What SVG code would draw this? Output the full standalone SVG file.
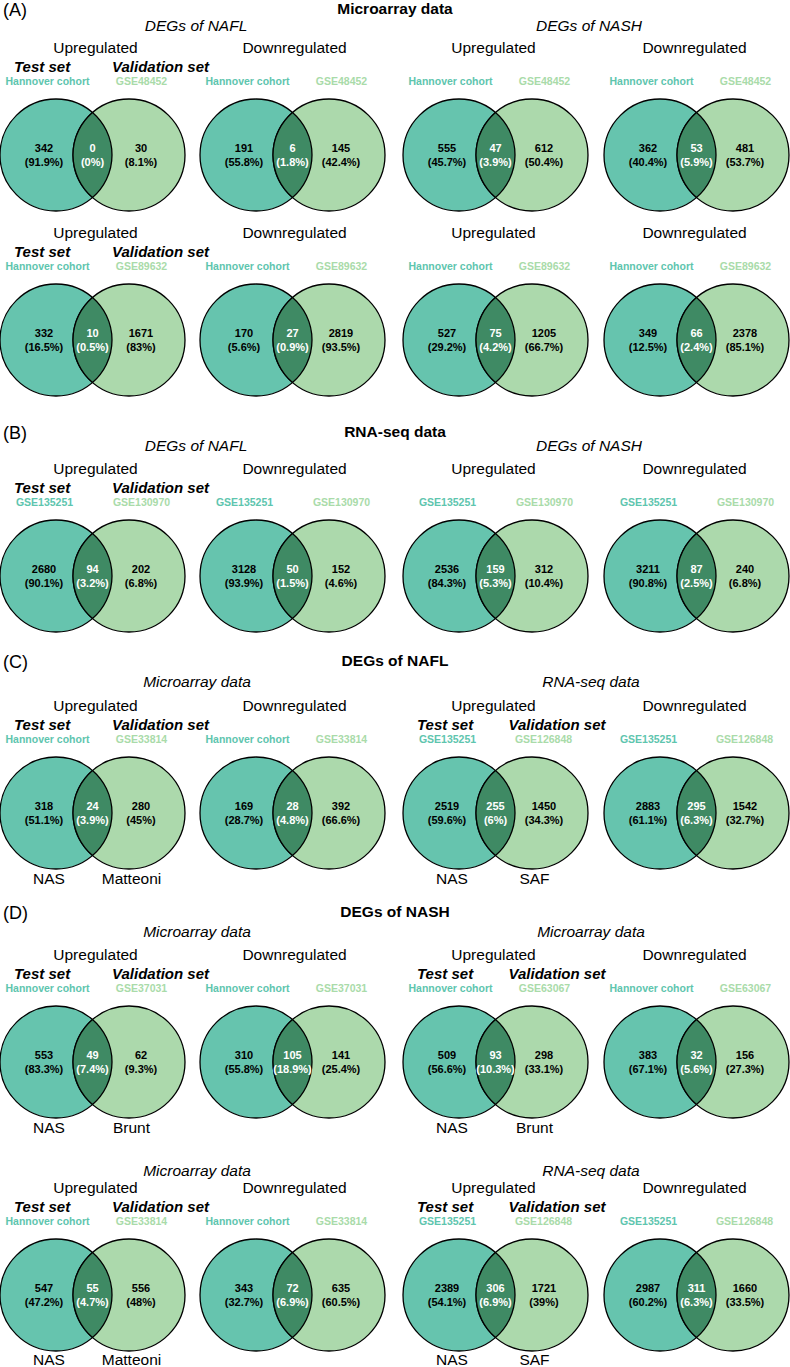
<svg xmlns="http://www.w3.org/2000/svg" xmlns:xlink="http://www.w3.org/1999/xlink" width="790" height="1367" viewBox="0 0 790 1367">
<style>
text{font-family:"Liberation Sans",Arial,sans-serif;}
.L{fill:#66c4ae;stroke:#000;stroke-width:1.3}
.R{fill:#acd9ac;stroke:#000;stroke-width:1.3}
.I{fill:#3f8a64;stroke:#000;stroke-width:1.3}
.pl{font-size:18px;fill:#000}
.tt{font-size:15.5px;font-weight:bold;fill:#000;text-anchor:middle}
.st{font-size:15.5px;font-style:italic;fill:#000;text-anchor:middle}
.ud{font-size:15.5px;fill:#000;text-anchor:middle}
.ts{font-size:15px;font-weight:bold;font-style:italic;fill:#000}
.dl{font-size:10.5px;font-weight:bold;fill:#5ec5ae;text-anchor:middle}
.dr{font-size:10.5px;font-weight:bold;fill:#a9dba9;text-anchor:middle}
.n{font-size:11px;font-weight:bold;fill:#000;text-anchor:middle}
.ni{font-size:11px;font-weight:bold;fill:#fff;text-anchor:middle}
.bl{font-size:15.5px;fill:#000;text-anchor:middle}
</style>
<defs>
<g id="venn">
<circle class="L" cx="-36.5" cy="0" r="56"/>
<circle class="R" cx="36.5" cy="0" r="56"/>
<path class="I" d="M0,-42.47A56,56 0 0 1 0,42.47A56,56 0 0 1 0,-42.47Z"/>
</g>
</defs>
<g id="connectors"></g>
<g id="headers">
<text class="pl" x="3" y="16">(A)</text>
<text class="tt" x="395" y="14">Microarray data</text>
<text class="st" x="196" y="31">DEGs of NAFL</text>
<text class="st" x="589" y="31">DEGs of NASH</text>
<text class="pl" x="3" y="439">(B)</text>
<text class="tt" x="395" y="437">RNA-seq data</text>
<text class="st" x="196" y="451">DEGs of NAFL</text>
<text class="st" x="589" y="451">DEGs of NASH</text>
<text class="pl" x="3" y="668">(C)</text>
<text class="tt" x="395" y="666">DEGs of NAFL</text>
<text class="st" x="197" y="687">Microarray data</text>
<text class="st" x="591" y="687">RNA-seq data</text>
<text class="pl" x="3" y="919">(D)</text>
<text class="tt" x="395" y="917">DEGs of NASH</text>
<text class="st" x="197" y="937">Microarray data</text>
<text class="st" x="591" y="937">Microarray data</text>
<text class="st" x="197" y="1176">Microarray data</text>
<text class="st" x="591" y="1176">RNA-seq data</text>
</g>

<!-- A row 1 -->
<g id="A1c1" transform="translate(92.5,155)">
<text class="ud" x="3" y="-102">Upregulated</text>
<text class="ts" x="-78.5" y="-83.5">Test set</text>
<text class="ts" x="19.5" y="-83.5">Validation set</text>
<text class="dl" x="-45" y="-70">Hannover cohort</text>
<text class="dr" x="49" y="-70">GSE48452</text>
<use href="#venn"/>
<text class="n" x="-48.5" y="-3.5">342</text><text class="n" x="-48.5" y="11">(91.9%)</text>
<text class="ni" x="0" y="-3.5">0</text><text class="ni" x="0" y="11">(0%)</text>
<text class="n" x="48.5" y="-3.5">30</text><text class="n" x="48.5" y="11">(8.1%)</text>
</g>
<g id="A1c2" transform="translate(292.5,155)">
<text class="ud" x="2" y="-102">Downregulated</text>
<text class="dl" x="-45" y="-70">Hannover cohort</text>
<text class="dr" x="49" y="-70">GSE48452</text>
<use href="#venn"/>
<text class="n" x="-48.5" y="-3.5">191</text><text class="n" x="-48.5" y="11">(55.8%)</text>
<text class="ni" x="0" y="-3.5">6</text><text class="ni" x="0" y="11">(1.8%)</text>
<text class="n" x="48.5" y="-3.5">145</text><text class="n" x="48.5" y="11">(42.4%)</text>
</g>
<g id="A1c3" transform="translate(495.5,155)">
<text class="ud" x="-2" y="-102">Upregulated</text>
<text class="dl" x="-45" y="-70">Hannover cohort</text>
<text class="dr" x="49" y="-70">GSE48452</text>
<use href="#venn"/>
<text class="n" x="-48.5" y="-3.5">555</text><text class="n" x="-48.5" y="11">(45.7%)</text>
<text class="ni" x="0" y="-3.5">47</text><text class="ni" x="0" y="11">(3.9%)</text>
<text class="n" x="48.5" y="-3.5">612</text><text class="n" x="48.5" y="11">(50.4%)</text>
</g>
<g id="A1c4" transform="translate(696.5,155)">
<text class="ud" x="-2" y="-102">Downregulated</text>
<text class="dl" x="-45" y="-70">Hannover cohort</text>
<text class="dr" x="49" y="-70">GSE48452</text>
<use href="#venn"/>
<text class="n" x="-48.5" y="-3.5">362</text><text class="n" x="-48.5" y="11">(40.4%)</text>
<text class="ni" x="0" y="-3.5">53</text><text class="ni" x="0" y="11">(5.9%)</text>
<text class="n" x="48.5" y="-3.5">481</text><text class="n" x="48.5" y="11">(53.7%)</text>
</g>

<!-- A row 2 -->
<g id="A2c1" transform="translate(92.5,340)">
<text class="ud" x="3" y="-102">Upregulated</text>
<text class="ts" x="-78.5" y="-83.5">Test set</text>
<text class="ts" x="19.5" y="-83.5">Validation set</text>
<text class="dl" x="-45" y="-70">Hannover cohort</text>
<text class="dr" x="49" y="-70">GSE89632</text>
<use href="#venn"/>
<text class="n" x="-48.5" y="-3.5">332</text><text class="n" x="-48.5" y="11">(16.5%)</text>
<text class="ni" x="0" y="-3.5">10</text><text class="ni" x="0" y="11">(0.5%)</text>
<text class="n" x="48.5" y="-3.5">1671</text><text class="n" x="48.5" y="11">(83%)</text>
</g>
<g id="A2c2" transform="translate(292.5,340)">
<text class="ud" x="2" y="-102">Downregulated</text>
<text class="dl" x="-45" y="-70">Hannover cohort</text>
<text class="dr" x="49" y="-70">GSE89632</text>
<use href="#venn"/>
<text class="n" x="-48.5" y="-3.5">170</text><text class="n" x="-48.5" y="11">(5.6%)</text>
<text class="ni" x="0" y="-3.5">27</text><text class="ni" x="0" y="11">(0.9%)</text>
<text class="n" x="48.5" y="-3.5">2819</text><text class="n" x="48.5" y="11">(93.5%)</text>
</g>
<g id="A2c3" transform="translate(495.5,340)">
<text class="ud" x="-2" y="-102">Upregulated</text>
<text class="dl" x="-45" y="-70">Hannover cohort</text>
<text class="dr" x="49" y="-70">GSE89632</text>
<use href="#venn"/>
<text class="n" x="-48.5" y="-3.5">527</text><text class="n" x="-48.5" y="11">(29.2%)</text>
<text class="ni" x="0" y="-3.5">75</text><text class="ni" x="0" y="11">(4.2%)</text>
<text class="n" x="48.5" y="-3.5">1205</text><text class="n" x="48.5" y="11">(66.7%)</text>
</g>
<g id="A2c4" transform="translate(696.5,340)">
<text class="ud" x="-2" y="-102">Downregulated</text>
<text class="dl" x="-45" y="-70">Hannover cohort</text>
<text class="dr" x="49" y="-70">GSE89632</text>
<use href="#venn"/>
<text class="n" x="-48.5" y="-3.5">349</text><text class="n" x="-48.5" y="11">(12.5%)</text>
<text class="ni" x="0" y="-3.5">66</text><text class="ni" x="0" y="11">(2.4%)</text>
<text class="n" x="48.5" y="-3.5">2378</text><text class="n" x="48.5" y="11">(85.1%)</text>
</g>

<!-- B -->
<g id="Bc1" transform="translate(92.5,576)">
<text class="ud" x="3" y="-102">Upregulated</text>
<text class="ts" x="-78.5" y="-83.5">Test set</text>
<text class="ts" x="19.5" y="-83.5">Validation set</text>
<text class="dl" x="-48" y="-70">GSE135251</text>
<text class="dr" x="49" y="-70">GSE130970</text>
<use href="#venn"/>
<text class="n" x="-48.5" y="-3.5">2680</text><text class="n" x="-48.5" y="11">(90.1%)</text>
<text class="ni" x="0" y="-3.5">94</text><text class="ni" x="0" y="11">(3.2%)</text>
<text class="n" x="48.5" y="-3.5">202</text><text class="n" x="48.5" y="11">(6.8%)</text>
</g>
<g id="Bc2" transform="translate(292.5,576)">
<text class="ud" x="2" y="-102">Downregulated</text>
<text class="dl" x="-48" y="-70">GSE135251</text>
<text class="dr" x="49" y="-70">GSE130970</text>
<use href="#venn"/>
<text class="n" x="-48.5" y="-3.5">3128</text><text class="n" x="-48.5" y="11">(93.9%)</text>
<text class="ni" x="0" y="-3.5">50</text><text class="ni" x="0" y="11">(1.5%)</text>
<text class="n" x="48.5" y="-3.5">152</text><text class="n" x="48.5" y="11">(4.6%)</text>
</g>
<g id="Bc3" transform="translate(495.5,576)">
<text class="ud" x="-2" y="-102">Upregulated</text>
<text class="dl" x="-48" y="-70">GSE135251</text>
<text class="dr" x="49" y="-70">GSE130970</text>
<use href="#venn"/>
<text class="n" x="-48.5" y="-3.5">2536</text><text class="n" x="-48.5" y="11">(84.3%)</text>
<text class="ni" x="0" y="-3.5">159</text><text class="ni" x="0" y="11">(5.3%)</text>
<text class="n" x="48.5" y="-3.5">312</text><text class="n" x="48.5" y="11">(10.4%)</text>
</g>
<g id="Bc4" transform="translate(696.5,576)">
<text class="ud" x="-2" y="-102">Downregulated</text>
<text class="dl" x="-48" y="-70">GSE135251</text>
<text class="dr" x="49" y="-70">GSE130970</text>
<use href="#venn"/>
<text class="n" x="-48.5" y="-3.5">3211</text><text class="n" x="-48.5" y="11">(90.8%)</text>
<text class="ni" x="0" y="-3.5">87</text><text class="ni" x="0" y="11">(2.5%)</text>
<text class="n" x="48.5" y="-3.5">240</text><text class="n" x="48.5" y="11">(6.8%)</text>
</g>

<!-- C -->
<g id="Cc1" transform="translate(92.5,813)">
<text class="ud" x="3" y="-102">Upregulated</text>
<text class="ts" x="-78.5" y="-83.5">Test set</text>
<text class="ts" x="19.5" y="-83.5">Validation set</text>
<text class="dl" x="-45" y="-70">Hannover cohort</text>
<text class="dr" x="49" y="-70">GSE33814</text>
<use href="#venn"/>
<text class="n" x="-48.5" y="-3.5">318</text><text class="n" x="-48.5" y="11">(51.1%)</text>
<text class="ni" x="0" y="-3.5">24</text><text class="ni" x="0" y="11">(3.9%)</text>
<text class="n" x="48.5" y="-3.5">280</text><text class="n" x="48.5" y="11">(45%)</text>
<text class="bl" x="-43.5" y="71">NAS</text>
<text class="bl" x="39" y="71">Matteoni</text>
</g>
<g id="Cc2" transform="translate(292.5,813)">
<text class="ud" x="2" y="-102">Downregulated</text>
<text class="dl" x="-45" y="-70">Hannover cohort</text>
<text class="dr" x="49" y="-70">GSE33814</text>
<use href="#venn"/>
<text class="n" x="-48.5" y="-3.5">169</text><text class="n" x="-48.5" y="11">(28.7%)</text>
<text class="ni" x="0" y="-3.5">28</text><text class="ni" x="0" y="11">(4.8%)</text>
<text class="n" x="48.5" y="-3.5">392</text><text class="n" x="48.5" y="11">(66.6%)</text>
</g>
<g id="Cc3" transform="translate(495.5,813)">
<text class="ud" x="-2" y="-102">Upregulated</text>
<text class="ts" x="-78.5" y="-83.5">Test set</text>
<text class="ts" x="13" y="-83.5">Validation set</text>
<text class="dl" x="-48" y="-70">GSE135251</text>
<text class="dr" x="48" y="-70">GSE126848</text>
<use href="#venn"/>
<text class="n" x="-48.5" y="-3.5">2519</text><text class="n" x="-48.5" y="11">(59.6%)</text>
<text class="ni" x="0" y="-3.5">255</text><text class="ni" x="0" y="11">(6%)</text>
<text class="n" x="48.5" y="-3.5">1450</text><text class="n" x="48.5" y="11">(34.3%)</text>
<text class="bl" x="-43.5" y="71">NAS</text>
<text class="bl" x="39" y="71">SAF</text>
</g>
<g id="Cc4" transform="translate(696.5,813)">
<text class="ud" x="-2" y="-102">Downregulated</text>
<text class="dl" x="-48" y="-70">GSE135251</text>
<text class="dr" x="48" y="-70">GSE126848</text>
<use href="#venn"/>
<text class="n" x="-48.5" y="-3.5">2883</text><text class="n" x="-48.5" y="11">(61.1%)</text>
<text class="ni" x="0" y="-3.5">295</text><text class="ni" x="0" y="11">(6.3%)</text>
<text class="n" x="48.5" y="-3.5">1542</text><text class="n" x="48.5" y="11">(32.7%)</text>
</g>

<!-- D row 1 -->
<g id="D1c1" transform="translate(92.5,1062)">
<text class="ud" x="3" y="-102">Upregulated</text>
<text class="ts" x="-78.5" y="-83.5">Test set</text>
<text class="ts" x="19.5" y="-83.5">Validation set</text>
<text class="dl" x="-45" y="-70">Hannover cohort</text>
<text class="dr" x="49" y="-70">GSE37031</text>
<use href="#venn"/>
<text class="n" x="-48.5" y="-3.5">553</text><text class="n" x="-48.5" y="11">(83.3%)</text>
<text class="ni" x="0" y="-3.5">49</text><text class="ni" x="0" y="11">(7.4%)</text>
<text class="n" x="48.5" y="-3.5">62</text><text class="n" x="48.5" y="11">(9.3%)</text>
<text class="bl" x="-43.5" y="71">NAS</text>
<text class="bl" x="39" y="71">Brunt</text>
</g>
<g id="D1c2" transform="translate(292.5,1062)">
<text class="ud" x="2" y="-102">Downregulated</text>
<text class="dl" x="-45" y="-70">Hannover cohort</text>
<text class="dr" x="49" y="-70">GSE37031</text>
<use href="#venn"/>
<text class="n" x="-48.5" y="-3.5">310</text><text class="n" x="-48.5" y="11">(55.8%)</text>
<text class="ni" x="0" y="-3.5">105</text><text class="ni" x="0" y="11">(18.9%)</text>
<text class="n" x="48.5" y="-3.5">141</text><text class="n" x="48.5" y="11">(25.4%)</text>
</g>
<g id="D1c3" transform="translate(495.5,1062)">
<text class="ud" x="-2" y="-102">Upregulated</text>
<text class="ts" x="-78.5" y="-83.5">Test set</text>
<text class="ts" x="13" y="-83.5">Validation set</text>
<text class="dl" x="-45" y="-70">Hannover cohort</text>
<text class="dr" x="49" y="-70">GSE63067</text>
<use href="#venn"/>
<text class="n" x="-48.5" y="-3.5">509</text><text class="n" x="-48.5" y="11">(56.6%)</text>
<text class="ni" x="0" y="-3.5">93</text><text class="ni" x="0" y="11">(10.3%)</text>
<text class="n" x="48.5" y="-3.5">298</text><text class="n" x="48.5" y="11">(33.1%)</text>
<text class="bl" x="-43.5" y="71">NAS</text>
<text class="bl" x="39" y="71">Brunt</text>
</g>
<g id="D1c4" transform="translate(696.5,1062)">
<text class="ud" x="-2" y="-102">Downregulated</text>
<text class="dl" x="-45" y="-70">Hannover cohort</text>
<text class="dr" x="49" y="-70">GSE63067</text>
<use href="#venn"/>
<text class="n" x="-48.5" y="-3.5">383</text><text class="n" x="-48.5" y="11">(67.1%)</text>
<text class="ni" x="0" y="-3.5">32</text><text class="ni" x="0" y="11">(5.6%)</text>
<text class="n" x="48.5" y="-3.5">156</text><text class="n" x="48.5" y="11">(27.3%)</text>
</g>

<!-- D row 2 -->
<g id="D2c1" transform="translate(92.5,1295)">
<text class="ud" x="3" y="-102">Upregulated</text>
<text class="ts" x="-78.5" y="-83.5">Test set</text>
<text class="ts" x="19.5" y="-83.5">Validation set</text>
<text class="dl" x="-45" y="-70">Hannover cohort</text>
<text class="dr" x="49" y="-70">GSE33814</text>
<use href="#venn"/>
<text class="n" x="-48.5" y="-3.5">547</text><text class="n" x="-48.5" y="11">(47.2%)</text>
<text class="ni" x="0" y="-3.5">55</text><text class="ni" x="0" y="11">(4.7%)</text>
<text class="n" x="48.5" y="-3.5">556</text><text class="n" x="48.5" y="11">(48%)</text>
<text class="bl" x="-43.5" y="70">NAS</text>
<text class="bl" x="39" y="70">Matteoni</text>
</g>
<g id="D2c2" transform="translate(292.5,1295)">
<text class="ud" x="2" y="-102">Downregulated</text>
<text class="dl" x="-45" y="-70">Hannover cohort</text>
<text class="dr" x="49" y="-70">GSE33814</text>
<use href="#venn"/>
<text class="n" x="-48.5" y="-3.5">343</text><text class="n" x="-48.5" y="11">(32.7%)</text>
<text class="ni" x="0" y="-3.5">72</text><text class="ni" x="0" y="11">(6.9%)</text>
<text class="n" x="48.5" y="-3.5">635</text><text class="n" x="48.5" y="11">(60.5%)</text>
</g>
<g id="D2c3" transform="translate(495.5,1295)">
<text class="ud" x="-2" y="-102">Upregulated</text>
<text class="ts" x="-78.5" y="-83.5">Test set</text>
<text class="ts" x="13" y="-83.5">Validation set</text>
<text class="dl" x="-48" y="-70">GSE135251</text>
<text class="dr" x="48" y="-70">GSE126848</text>
<use href="#venn"/>
<text class="n" x="-48.5" y="-3.5">2389</text><text class="n" x="-48.5" y="11">(54.1%)</text>
<text class="ni" x="0" y="-3.5">306</text><text class="ni" x="0" y="11">(6.9%)</text>
<text class="n" x="48.5" y="-3.5">1721</text><text class="n" x="48.5" y="11">(39%)</text>
<text class="bl" x="-43.5" y="70">NAS</text>
<text class="bl" x="39" y="70">SAF</text>
</g>
<g id="D2c4" transform="translate(696.5,1295)">
<text class="ud" x="-2" y="-102">Downregulated</text>
<text class="dl" x="-48" y="-70">GSE135251</text>
<text class="dr" x="48" y="-70">GSE126848</text>
<use href="#venn"/>
<text class="n" x="-48.5" y="-3.5">2987</text><text class="n" x="-48.5" y="11">(60.2%)</text>
<text class="ni" x="0" y="-3.5">311</text><text class="ni" x="0" y="11">(6.3%)</text>
<text class="n" x="48.5" y="-3.5">1660</text><text class="n" x="48.5" y="11">(33.5%)</text>
</g>
</svg>
